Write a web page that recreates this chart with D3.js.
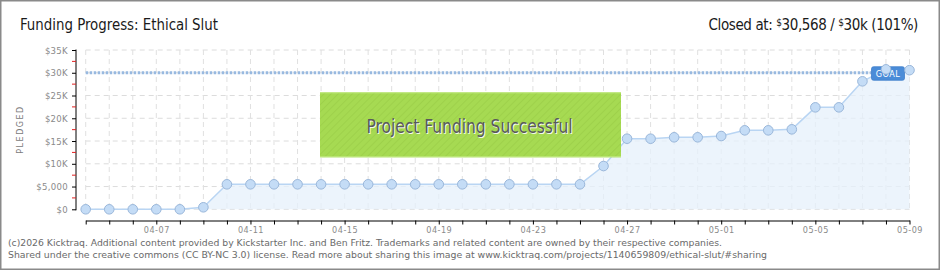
<!DOCTYPE html>
<html>
<head>
<meta charset="utf-8">
<script src="https://cdn.jsdelivr.net/npm/d3@7"></script>
<style>
  html, body { margin: 0; padding: 0; background: #ffffff; }
  svg { display: block; }
</style>
</head>
<body>
<div id="svgOutput"></div>
<script>
// data

const dates = [
  "04-04", "04-05", "04-06", "04-07", "04-08", "04-09", "04-10", "04-11", "04-12",
  "04-13", "04-14", "04-15", "04-16", "04-17", "04-18", "04-19", "04-20", "04-21",
  "04-22", "04-23", "04-24", "04-25", "04-26", "04-27", "04-28", "04-29", "04-30",
  "05-01", "05-02", "05-03", "05-04", "05-05", "05-06", "05-07", "05-08", "05-09"
];

const pledged = [
  0, 0, 0, 0, 0, 440, 5490, 5490, 5490,
  5490, 5490, 5490, 5490, 5490, 5490, 5490, 5490, 5490,
  5490, 5490, 5490, 5490, 9510, 15510, 15510, 15820, 15820,
  16100, 17350, 17350, 17570, 22400, 22400, 28120, 30750, 30568
];

const goal = 30000;
const yTicks = [0, 5000, 10000, 15000, 20000, 25000, 30000, 35000];
const yTickLabels = ["$0", "$5,000", "$10K", "$15K", "$20K", "$25K", "$30K", "$35K"];
const yMinorTicks = [2500, 7500, 12500, 17500, 22500, 27500, 32500];

(function () {
  // config

  const width = 940;
  const height = 270;
  const plot = { left: 85.7, right: 909.5, top: 50, bottom: 209.3 };
  const axisX = 76;
  const axisY = 220.5;
  const titleFont = "'Liberation Sans Narrow', 'DejaVu Sans Condensed', sans-serif";
  const smallFont = "'DejaVu Sans Condensed', sans-serif";

  const data = dates.map((d, i) => ({ date: d, value: pledged[i] }));

  // scales

  const xScale = d3.scalePoint()
    .domain(dates)
    .range([plot.left, plot.right]);

  const yScale = d3.scaleLinear()
    .domain([0, 35000])
    .range([plot.bottom, plot.top]);

  // svg output

  const svg = d3.select("#svgOutput")
    .append("svg")
    .attr("width", width)
    .attr("height", height)
    .attr("viewBox", [0, 0, width, height]);

  const defs = svg.append("defs");
  const stripes = defs.append("pattern")
    .attr("id", "stripes")
    .attr("width", 5)
    .attr("height", 5)
    .attr("patternUnits", "userSpaceOnUse")
    .attr("patternTransform", "rotate(45)");
  stripes.append("rect")
    .attr("width", 5).attr("height", 5)
    .attr("fill", "#a6da52");
  stripes.append("line")
    .attr("x1", 0).attr("y1", 0).attr("x2", 0).attr("y2", 5)
    .attr("stroke", "#9ccf49")
    .attr("stroke-width", 1.5);

  // frame
  svg.append("rect")
    .attr("x", 0.75).attr("y", 0.75)
    .attr("width", width - 1.5).attr("height", height - 1.5)
    .attr("fill", "#ffffff")
    .attr("stroke", "#8a8a8a")
    .attr("stroke-width", 1.5);

  // titles
  svg.append("text")
    .attr("x", 20)
    .attr("y", 30)
    .attr("textLength", 198)
    .attr("lengthAdjust", "spacingAndGlyphs")
    .style("font-family", titleFont)
    .style("font-size", "16px")
    .style("fill", "#1a1a1a")
    .text("Funding Progress: Ethical Slut");

  const closed = svg.append("text")
    .attr("x", 918)
    .attr("y", 30)
    .attr("text-anchor", "end")
    .style("font-family", titleFont)
    .style("font-size", "15px")
    .style("letter-spacing", "-0.4px")
    .style("fill", "#1a1a1a");
  closed.append("tspan").text("Closed at:  ");
  closed.append("tspan").attr("dy", -4).style("font-size", "10px").text("$");
  closed.append("tspan").attr("dy", 4).text("30,568 /  ");
  closed.append("tspan").attr("dy", -4).style("font-size", "10px").text("$");
  closed.append("tspan").attr("dy", 4).text("30k (101%)");

  // grid

  svg.append("g")
    .selectAll("line.hgrid")
    .data(yTicks)
    .join("line")
    .attr("class", "hgrid")
    .attr("x1", plot.left)
    .attr("x2", plot.right)
    .attr("y1", d => yScale(d))
    .attr("y2", d => yScale(d))
    .attr("stroke", "#dcdcdc")
    .attr("stroke-dasharray", "5,4");

  svg.append("g")
    .selectAll("line.vgrid")
    .data(dates)
    .join("line")
    .attr("class", "vgrid")
    .attr("x1", d => xScale(d))
    .attr("x2", d => xScale(d))
    .attr("y1", plot.top)
    .attr("y2", plot.bottom)
    .attr("stroke", "#e0e0e0")
    .attr("stroke-dasharray", "5,4");

  // area and line

  const area = d3.area()
    .x(d => xScale(d.date))
    .y0(yScale(0))
    .y1(d => yScale(d.value));

  svg.append("path")
    .attr("d", area(data))
    .attr("fill", "#e6f0fb")
    .attr("fill-opacity", 0.75);

  // goal line
  const goalEnd = xScale(dates[dates.length - 1]) - 38;

  svg.append("line")
    .attr("x1", plot.left)
    .attr("x2", goalEnd)
    .attr("y1", yScale(goal))
    .attr("y2", yScale(goal))
    .attr("stroke", "#98b9e0")
    .attr("stroke-width", 3)
    .attr("stroke-dasharray", "2.5,1.5");

  const line = d3.line()
    .x(d => xScale(d.date))
    .y(d => yScale(d.value));

  svg.append("path")
    .attr("d", line(data))
    .attr("fill", "none")
    .attr("stroke", "#b9d5f3")
    .attr("stroke-width", 1.5)
    .attr("stroke-linejoin", "round");

  // goal label
  svg.append("rect")
    .attr("x", goalEnd)
    .attr("y", yScale(goal) - 6)
    .attr("width", 33)
    .attr("height", 13.5)
    .attr("rx", 2)
    .attr("fill", "#4a8cd8")
    .attr("stroke", "#3f7fcb")
    .attr("stroke-width", 0.8);

  svg.append("text")
    .attr("x", goalEnd + 16.5)
    .attr("y", yScale(goal) + 4.5)
    .attr("text-anchor", "middle")
    .style("font-family", smallFont)
    .style("font-size", "9px")
    .style("letter-spacing", "0.5px")
    .style("fill", "#ffffff")
    .text("GOAL");

  // points
  svg.selectAll("circle.point")
    .data(data)
    .join("circle")
    .attr("class", "point")
    .attr("cx", d => xScale(d.date))
    .attr("cy", d => yScale(d.value))
    .attr("r", 4.8)
    .attr("fill", "#c4dcf6")
    .attr("stroke", "#9ab7da")
    .attr("stroke-width", 1);

  // success banner
  svg.append("rect")
    .attr("x", 320)
    .attr("y", 92.3)
    .attr("width", 301)
    .attr("height", 65)
    .attr("fill", "url(#stripes)");
  svg.append("line")
    .attr("x1", 320).attr("x2", 621)
    .attr("y1", 92.8).attr("y2", 92.8)
    .attr("stroke", "#c4ea86");
  svg.append("line")
    .attr("x1", 320).attr("x2", 621)
    .attr("y1", 156.8).attr("y2", 156.8)
    .attr("stroke", "#c4ea86");

  svg.append("text")
    .attr("x", 469.5)
    .attr("y", 132.5)
    .attr("text-anchor", "middle")
    .attr("textLength", 206)
    .attr("lengthAdjust", "spacingAndGlyphs")
    .style("font-family", titleFont)
    .style("font-size", "19px")
    .style("fill", "#f4f8ec")
    .attr("transform", "translate(1,1)")
    .text("Project Funding Successful");
  svg.append("text")
    .attr("x", 469.5)
    .attr("y", 132.5)
    .attr("text-anchor", "middle")
    .attr("textLength", 206)
    .attr("lengthAdjust", "spacingAndGlyphs")
    .style("font-family", titleFont)
    .style("font-size", "19px")
    .style("fill", "#5a5a5a")
    .text("Project Funding Successful");

  // axes

  const yAxis = d3.axisLeft(yScale)
    .tickValues(yTicks)
    .tickFormat((d, i) => yTickLabels[i])
    .tickSize(4)
    .tickSizeOuter(0)
    .tickPadding(4);

  svg.append("g")
    .attr("transform", "translate(" + axisX + ", 0)")
    .call(yAxis)
    .call(g => g.select(".domain")
      .attr("stroke", "#000000")
      .attr("d", "M0," + (plot.top - 0.5) + "V" + (plot.bottom + 1)))
    .call(g => g.selectAll(".tick line")
      .attr("stroke", "#000000"))
    .call(g => g.selectAll(".tick text")
      .style("font-family", smallFont)
      .style("font-size", "9.5px")
      .style("letter-spacing", "0.3px")
      .attr("fill", "#8a8a8a"));

  svg.append("g")
    .attr("transform", "translate(" + axisX + ", 0)")
    .selectAll("line.minor")
    .data(yMinorTicks)
    .join("line")
    .attr("class", "minor")
    .attr("x1", -4)
    .attr("x2", 0)
    .attr("y1", d => yScale(d))
    .attr("y2", d => yScale(d))
    .attr("stroke", "#e02020");

  const xAxis = d3.axisBottom(xScale)
    .tickFormat((d, i) => (i % 4 === 3 ? d : ""))
    .tickSize(4)
    .tickSizeOuter(0)
    .tickPadding(2);

  svg.append("g")
    .attr("transform", "translate(0, " + axisY + ")")
    .call(xAxis)
    .call(g => g.select(".domain")
      .attr("stroke", "#000000"))
    .call(g => g.selectAll(".tick line")
      .attr("stroke", "#000000"))
    .call(g => g.selectAll(".tick text")
      .style("font-family", smallFont)
      .style("font-size", "9px")
      .style("letter-spacing", "0.5px")
      .attr("fill", "#8a8a8a"));

  // y label
  svg.append("text")
    .attr("transform", "translate(23, 129.5) rotate(-90)")
    .attr("text-anchor", "middle")
    .style("font-family", "'DejaVu Sans', sans-serif")
    .style("font-size", "8px")
    .style("letter-spacing", "1.5px")
    .style("fill", "#7a7a7a")
    .text("PLEDGED");

  // footer
  svg.append("text")
    .attr("x", 8)
    .attr("y", 246)
    .attr("textLength", 714)
    .attr("lengthAdjust", "spacingAndGlyphs")
    .style("font-family", smallFont)
    .style("font-size", "9.5px")
    .style("fill", "#6a6a6a")
    .text("(c)2026 Kicktraq. Additional content provided by Kickstarter Inc. and Ben Fritz. Trademarks and related content are owned by their respective companies.");

  svg.append("text")
    .attr("x", 8)
    .attr("y", 258)
    .attr("textLength", 759)
    .attr("lengthAdjust", "spacingAndGlyphs")
    .style("font-family", smallFont)
    .style("font-size", "9.5px")
    .style("fill", "#6a6a6a")
    .text("Shared under the creative commons (CC BY-NC 3.0) license. Read more about sharing this image at www.kicktraq.com/projects/1140659809/ethical-slut/#sharing");
})();
</script>
</body>
</html>
